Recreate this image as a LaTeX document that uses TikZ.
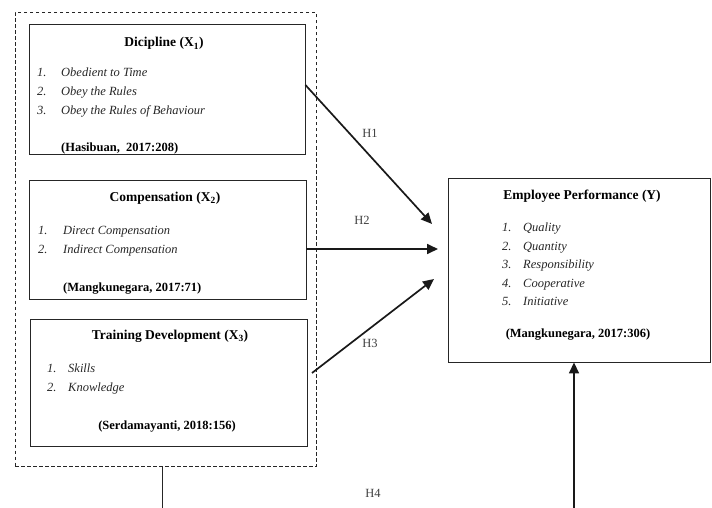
\documentclass[tikz,border=0pt]{standalone}
\usepackage{fontspec}
\setmainfont{Liberation Serif}
\usetikzlibrary{arrows.meta}
\tikzset{
	varbox/.style={draw=black!85, line width=0.9pt, inner sep=0pt},
	vartitle/.style={font=\fontsize{13.5}{15}\selectfont\bfseries, anchor=base, inner sep=0pt},
	varcite/.style={font=\fontsize{12.5}{15}\selectfont\bfseries, inner sep=0pt},
	varlist/.style={font=\fontsize{12.5}{19}\selectfont\itshape, text=black!85, anchor=base west, inner sep=0pt},
	hyplabel/.style={font=\fontsize{12.5}{14}\selectfont, text=black!75, inner sep=0pt},
	hyparrow/.style={draw=black!90, line width=1.7pt, -{Triangle[length=11pt,width=10pt]}},
}
\begin{document}
\begin{tikzpicture}[x=1pt, y=-1pt]
		%%%%% START %%%%%
		\useasboundingbox (0,0) rectangle (712,508);
		
		% dashed group round the three variables
		\node[draw=black!85, line width=0.7pt, dash pattern=on 3.5pt off 2.5pt, minimum width=301pt, minimum height=454pt] (grp) at (165.5, 239.5) {};
		
		% Dicipline
		\node[varbox, minimum width=276pt, minimum height=130pt] (dis) at (167, 89) {};
		\node[vartitle] (disT) at (164, 47) {Dicipline (X\textsubscript{1})};
		\node[varlist] (disL) at (37, 76.5) {\begin{tabular}[t]{@{}p{24pt}@{}l@{}}
			1. & Obedient to Time\\
			2. & Obey the Rules\\
			3. & Obey the Rules of Behaviour
		\end{tabular}};
		\node[varcite, anchor=base west] (disC) at (61, 151) {(Hasibuan,\ \ 2017:208)};
		
		% Compensation
		\node[varbox, minimum width=277pt, minimum height=119pt] (cmp) at (167.5, 239.5) {};
		\node[vartitle] (cmpT) at (165, 201) {Compensation (X\textsubscript{2})};
		\node[varlist] (cmpL) at (38, 234) {\begin{tabular}[t]{@{}p{25pt}@{}l@{}}
			1. & Direct Compensation\\
			2. & Indirect Compensation
		\end{tabular}};
		\node[varcite, anchor=base west] (cmpC) at (63, 291) {(Mangkunegara, 2017:71)};
		
		% Training Development
		\node[varbox, minimum width=277pt, minimum height=127pt] (trn) at (168.5, 382.5) {};
		\node[vartitle] (trnT) at (170, 339) {Training Development (X\textsubscript{3})};
		\node[varlist] (trnL) at (47, 372) {\begin{tabular}[t]{@{}p{21pt}@{}l@{}}
			1. & Skills\\
			2. & Knowledge
		\end{tabular}};
		\node[varcite, anchor=base] (trnC) at (167, 429) {(Serdamayanti, 2018:156)};
		
		% Employee Performance
		\node[varbox, minimum width=262pt, minimum height=184pt] (prf) at (579, 270) {};
		\node[vartitle] (prfT) at (582, 199) {Employee Performance (Y)};
		\node[varlist] (prfL) at (502, 231.5) {\fontsize{12.5}{18.5}\selectfont\begin{tabular}[t]{@{}p{21pt}@{}l@{}}
			1. & Quality\\
			2. & Quantity\\
			3. & Responsibility\\
			4. & Cooperative\\
			5. & Initiative
		\end{tabular}};
		\node[varcite, anchor=base] (prfC) at (578, 337) {(Mangkunegara, 2017:306)};
		
		% hypotheses
		\coordinate (h1a) at (306, 85);
		\coordinate (h1b) at (432, 224);
		\coordinate (h2b) at (438, 249);
		\coordinate (h3a) at (312, 373);
		\coordinate (h3b) at (434, 279);
		\coordinate (h4a) at (162, 508);
		\coordinate (h4b) at (574, 508);
		
		\draw[hyparrow] (dis.east |- h1a) -- (h1b);
		\draw[hyparrow] (cmp.east |- h2b) -- (h2b);
		\draw[hyparrow] (h3a) -- (h3b);
		\draw[draw=black!85, line width=0.9pt] (grp.south -| h4a) -- (h4a);
		\draw[hyparrow] (h4b) -- (h4b |- prf.south);
		
		\node[hyplabel] (h1) at (370, 133) {H1};
		\node[hyplabel] (h2) at (362, 220) {H2};
		\node[hyplabel] (h3) at (370, 343) {H3};
		\node[hyplabel] (h4) at (373, 493) {H4};
		
		%%%%% END %%%%%
	\end{tikzpicture}
\end{document}
